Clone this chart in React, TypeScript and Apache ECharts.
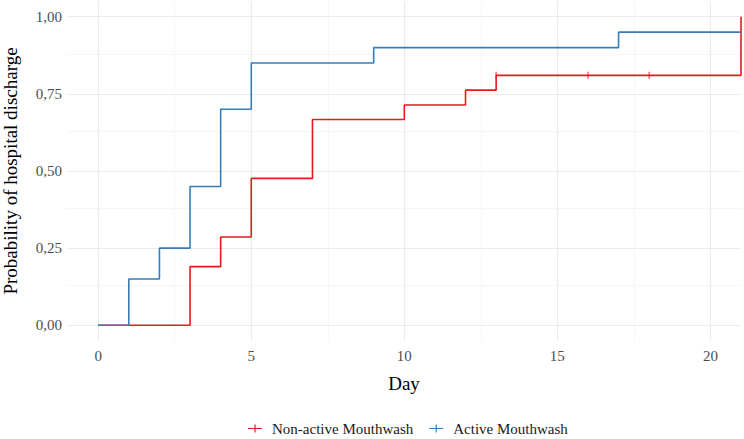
import React, { useEffect, useRef } from "react";
import * as echarts from "echarts";

const seriesNames = ["Non-active Mouthwash", "Active Mouthwash"];
const colors = ["#E41A1C", "#377EB8"];

const nonActiveDays = [0, 3, 4, 5, 7, 10, 12, 13, 21];
const nonActiveProb = [0, 0.19, 0.286, 0.476, 0.667, 0.714, 0.762, 0.81, 1.0];

const activeDays = [0, 1, 2, 3, 4, 5, 9, 17, 21];
const activeProb = [0, 0.15, 0.25, 0.45, 0.7, 0.85, 0.9, 0.95, 0.95];

const censorDays = [13, 16, 18];
const censorProb = [0.81, 0.81, 0.81];

const xTicks = [0, 5, 10, 15, 20];
const xMinor = [2.5, 7.5, 12.5, 17.5];
const yTicks = [0, 0.25, 0.5, 0.75, 1.0];
const yMinor = [0.125, 0.375, 0.625, 0.875];

const FONT = "Liberation Serif";

export default function App() {
  const ref = useRef<HTMLDivElement>(null);
  useEffect(() => {
    if (!ref.current) return;
    const chart = echarts.init(ref.current, undefined, { renderer: "svg" });
    const pairs = (xs: number[], ys: number[]) => xs.map((x, i) => [x, ys[i]]);
    const plusIcon =
      "path://M0,4.4 L14,4.4 L14,5.6 L0,5.6 Z M6.4,1 L7.6,1 L7.6,9 L6.4,9 Z";
    const major = { color: "#EBEBEB", width: 1.2, type: "solid" as const };
    const minor = { color: "#F2F2F2", width: 0.7, type: "solid" as const };
    chart.setOption({
      animation: false,
      backgroundColor: "#ffffff",
      textStyle: { fontFamily: FONT },
      grid: {
        left: 67,
        right: 3,
        top: 1.3,
        bottom: 439 - 340.7,
        containLabel: false,
        outerBoundsMode: "none",
      },
      legend: {
        data: [
          { name: seriesNames[0], icon: plusIcon, itemStyle: { color: colors[0] } },
          { name: seriesNames[1], icon: plusIcon, itemStyle: { color: colors[1] } },
        ],
        top: 416,
        left: 243,
        itemWidth: 14,
        itemHeight: 9,
        itemGap: 16,
        textStyle: {
          fontFamily: FONT,
          fontSize: 15,
          color: "#1a1a1a",
          padding: [0, 0, 0, 5],
        },
      },
      xAxis: {
        type: "value",
        min: -1.02,
        max: 21,
        name: "Day",
        nameLocation: "middle",
        nameGap: 33,
        nameTextStyle: { fontFamily: FONT, fontSize: 19, color: "#000" },
        axisLine: { show: false },
        axisTick: { show: false },
        splitLine: { show: false },
        axisLabel: {
          customValues: xTicks,
          fontFamily: FONT,
          fontSize: 15,
          color: "#4D4D4D",
          margin: 8,
        },
      },
      yAxis: {
        type: "value",
        min: -0.05,
        max: 1.05,
        name: "Probability of hospital discharge",
        nameLocation: "middle",
        nameGap: 47,
        nameTextStyle: { fontFamily: FONT, fontSize: 19, color: "#000" },
        axisLine: { show: false },
        axisTick: { show: false },
        splitLine: { show: false },
        axisLabel: {
          customValues: yTicks,
          fontFamily: FONT,
          fontSize: 15,
          color: "#4D4D4D",
          margin: 5,
          formatter: (v: number) => v.toFixed(2).replace(".", ","),
        },
      },
      series: [
        {
          name: "grid",
          type: "scatter",
          data: [],
          silent: true,
          z: 0,
          markLine: {
            z: 0,
            silent: true,
            symbol: "none",
            label: { show: false },
            animation: false,
            data: [
              ...xMinor.map((v) => ({ xAxis: v, lineStyle: minor })),
              ...yMinor.map((v) => ({ yAxis: v, lineStyle: minor })),
              ...xTicks.map((v) => ({ xAxis: v, lineStyle: major })),
              ...yTicks.map((v) => ({ yAxis: v, lineStyle: major })),
            ],
          },
        },
        {
          name: seriesNames[0],
          type: "line",
          step: "end",
          data: pairs(nonActiveDays, nonActiveProb),
          showSymbol: false,
          symbol: "none",
          lineStyle: { color: colors[0], width: 1.6 },
          itemStyle: { color: colors[0] },
          z: 2,
        },
        {
          name: "censor",
          type: "scatter",
          data: pairs(censorDays, censorProb),
          symbol: "rect",
          symbolSize: [1.2, 7],
          itemStyle: { color: colors[0] },
          z: 3,
        },
        {
          name: seriesNames[1],
          type: "line",
          step: "end",
          data: pairs(activeDays, activeProb),
          showSymbol: false,
          symbol: "none",
          lineStyle: { color: colors[1], width: 1.6 },
          itemStyle: { color: colors[1] },
          z: 4,
        },
      ],
    });
    return () => chart.dispose();
  }, []);
  return (
    <div
      ref={ref}
      style={{ position: "fixed", left: 0, top: 0, width: 744, height: 439 }}
    />
  );
}
